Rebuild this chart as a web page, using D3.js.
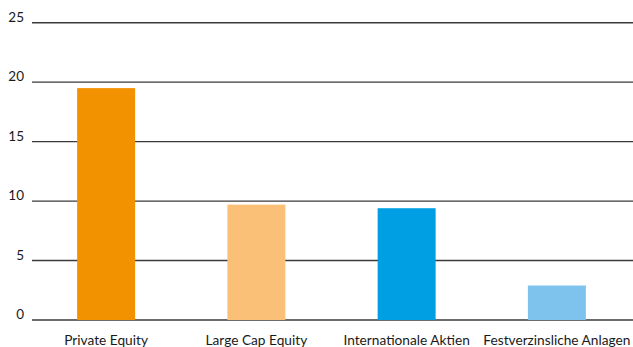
<!DOCTYPE html>
<html>
<head>
<meta charset="utf-8">
<script src="https://cdn.jsdelivr.net/npm/d3@7"></script>
<style>
  body { margin: 0; background: #fff; }
  svg text { font-family: Lato, "Open Sans", sans-serif; fill: #1a1a1a; }
</style>
</head>
<body>
<svg id="chart"></svg>
<script>
const WIDTH = 633
const HEIGHT = 347

const categories = ['Private Equity', 'Large Cap Equity', 'Internationale Aktien', 'Festverzinsliche Anlagen']
const values = [19.5, 9.7, 9.4, 2.9]
const colors = ['#f39200', '#fbc077', '#009fe3', '#7dc3ee']
const yTicks = [0, 5, 10, 15, 20, 25]

const svg = d3.select('#chart').attr('width', WIDTH).attr('height', HEIGHT)

const x = d3.scaleBand().domain(categories).range([31, 632])
const y = d3.scaleLinear().domain([0, 25]).range([320, 22.7])
const barWidth = x.bandwidth() * 0.386

// gridlines
svg.append('g')
    .selectAll('line')
    .data(yTicks)
    .join('line')
    .attr('x1', 32)
    .attr('x2', WIDTH)
    .attr('y1', d => y(d))
    .attr('y2', d => y(d))
    .attr('stroke', '#3a3a3a')
    .attr('stroke-width', 1.4)

// y labels
svg.append('g')
    .selectAll('text')
    .data(yTicks)
    .join('text')
    .attr('x', 24)
    .attr('y', d => y(d) - 1)
    .attr('text-anchor', 'end')
    .style('font-size', '13.5px')
    .text(d => d)

// bars
svg.append('g')
    .selectAll('rect')
    .data(values)
    .join('rect')
    .attr('x', (d, i) => x(categories[i]) + x.bandwidth() / 2 - barWidth / 2)
    .attr('y', d => y(d))
    .attr('width', barWidth)
    .attr('height', d => y(0) - y(d))
    .attr('fill', (d, i) => colors[i])

// category labels
svg.append('g')
    .selectAll('text')
    .data(categories)
    .join('text')
    .attr('x', d => x(d) + x.bandwidth() / 2)
    .attr('y', 345)
    .attr('text-anchor', 'middle')
    .style('font-size', '13.7px')
    .text(d => d)
</script>
</body>
</html>
